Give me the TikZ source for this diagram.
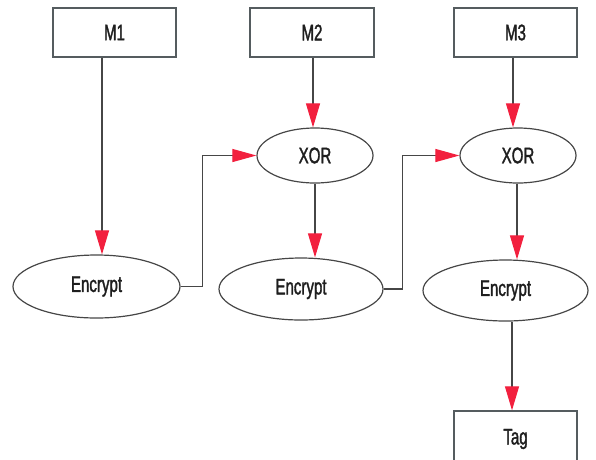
\documentclass[tikz,border=0pt]{standalone}
\usepackage{fontspec}
\setmainfont{Liberation Sans}[FakeStretch=0.67,FakeBold=1.5]
\usetikzlibrary{arrows.meta,shapes.geometric}
\definecolor{linegray}{RGB}{70,70,70}
\definecolor{boxgray}{RGB}{85,92,95}
\definecolor{tipred}{RGB}{242,32,62}
\definecolor{inkdark}{RGB}{30,30,30}
\tikzset{
  msgbox/.style={draw=boxgray, line width=1.3pt, minimum width=123pt, minimum height=49pt,
    inner sep=0pt, text=inkdark, font=\fontsize{22.5}{26}\selectfont},
  opnode/.style={draw=linegray, line width=1.2pt, ellipse, inner sep=0pt,
    text=inkdark, font=\fontsize{22.5}{26}\selectfont},
  flow/.style={draw=linegray, line width=1.1pt,
    -{Triangle[length=24pt,width=14pt,color=tipred]}},
  link/.style={draw=linegray, line width=1.1pt,
    -{Triangle[length=24pt,width=13pt,color=tipred]}}
}
\begin{document}
\begin{tikzpicture}[x=1pt,y=-1pt]
  \useasboundingbox (0,0) rectangle (596,459);

  % message blocks
  \node[msgbox] (M1) at (114.5,32.5) {M1};
  \node[msgbox, minimum width=124pt] (M2) at (312,32.5) {M2};
  \node[msgbox] (M3) at (515.5,32.5) {M3};

  % xor stages
  \node[opnode, minimum width=116pt, minimum height=55pt] (X1) at (315,155.5) {XOR};
  \node[opnode, minimum width=116pt, minimum height=55pt] (X2) at (518,155.5) {XOR};

  % block cipher stages
  \node[opnode, minimum width=167pt, minimum height=63pt] (E1) at (96.5,286.5) {Encrypt};
  \node[opnode, minimum width=164pt, minimum height=62pt] (E2) at (301,289) {Encrypt};
  \node[opnode, minimum width=165pt, minimum height=61pt] (E3) at (505.5,290.5) {Encrypt};

  % final tag (runs past the lower edge)
  \node[msgbox, minimum height=56pt] (T) at (515.5,439) {\raisebox{3pt}{Tag}};

  % message inputs
  \draw[flow] ([xshift=-12.5pt]M1.south) -- ([xshift=5.5pt]E1.north);
  \draw[flow] ([xshift=1pt]M2.south) -- ([xshift=-2pt]X1.north);
  \draw[flow] ([xshift=-2.5pt]M3.south) -- ([xshift=-5pt]X2.north);

  % chaining
  \draw[flow] (X1.south) -- ([xshift=14pt]E2.north);
  \draw[flow] ([xshift=-1pt]X2.south) -- ([xshift=11.5pt]E3.north);
  \draw[link] (E1.east) -- ++(22,0) |- (X1.west);
  \draw[link] (E2.east) -- ++(19,0) |- (X2.west);

  % output
  \draw[flow] ([xshift=6.5pt]E3.south) -- ([xshift=-3.5pt]T.north);
\end{tikzpicture}
\end{document}
